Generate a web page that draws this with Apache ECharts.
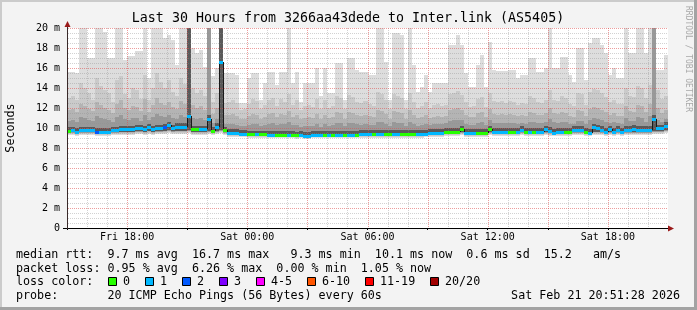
<!DOCTYPE html>
<html><head><meta charset="utf-8">
<script src="https://cdn.jsdelivr.net/npm/echarts@6/dist/echarts.min.js"></script>
<style>html,body{margin:0;padding:0;background:#f3f3f3}#c{width:697px;height:310px}</style>
</head><body><div id="c"></div>
<script>
const chartTitle = 'Last 30 Hours from 3266aa43dede to Inter.link (AS5405)';
const stepHours = 0.2; // 12-minute consolidated columns
const xTickHours = [3, 9, 15, 21, 27];
const xTickLabels = ['Fri 18:00', 'Sat 00:00', 'Sat 06:00', 'Sat 12:00', 'Sat 18:00'];
const yTickLabels = ['0', '2 m', '4 m', '6 m', '8 m', '10 m', '12 m', '14 m', '16 m', '18 m', '20 m'];

// smoke: top of each shade band (ms), lightest to darkest
const smokeMax = [
  15.6,15.6,15.5,20,20,17.0,17.0,20,20,19.6,
  17.0,17.0,20,20,16.8,17.2,17.2,17.7,17.7,20,
  15.0,20,20,20,19.0,19.3,18.8,16.3,20,20,
  20,18.0,17.5,17.8,16.1,20,15.2,16.0,20,15.5,
  15.5,15.5,15.3,12.5,12.5,15.0,15.5,15.5,12.8,14.5,
  15.6,15.6,14.3,15.6,15.6,20,14.5,15.6,12.6,14.5,
  14.5,14.5,16.0,13.2,16.0,13.5,13.5,16.5,16.5,12.8,
  17.0,17.0,15.8,15.6,15.6,15.3,15.3,20,20,16.6,
  12.8,19.5,19.5,19.3,12.8,20,16.3,13.6,14.1,15.3,
  13.6,14.5,14.5,14.5,14.5,18.3,18.3,19.3,18.3,15.5,
  14.1,14.1,16.3,17.3,14.1,18.6,15.8,15.7,15.7,15.7,
  15.8,15.8,15.0,15.3,15.3,17.0,17.0,15.6,15.6,16.0,
  20,16.0,16.0,17.1,17.1,15.3,14.6,18.0,18.0,14.8,
  18.5,19.0,19.0,18.3,17.5,15.3,16.0,15.0,15.0,20,
  17.5,17.5,20,20,17.5,20,20,15.8,15.8,17.3
];
const smokeHi = [
  13.0,13.2,12.8,14.5,14.0,13.5,12.8,15.0,14.2,13.8,
  13.5,12.6,14.8,15.2,13.4,13.0,14.0,13.8,12.9,15.3,
  12.8,14.0,15.5,14.6,14.0,14.8,13.6,13.2,15.0,14.4,
  20,14.0,13.5,13.8,13.2,20,12.6,13.5,20,12.5,
  12.6,12.8,12.5,11.8,11.9,12.4,12.9,12.7,11.9,12.3,
  12.8,13.0,12.2,12.9,12.6,13.4,12.3,12.8,11.8,12.2,
  12.3,12.1,12.9,11.9,12.8,12.0,12.2,13.2,13.0,11.9,
  13.3,13.1,12.6,12.5,12.7,12.4,12.2,13.6,13.4,12.8,
  11.9,13.4,13.2,13.0,11.9,13.5,12.6,12.0,12.2,12.6,
  12.0,12.3,12.4,12.2,12.3,13.4,13.5,13.7,13.3,12.6,
  12.1,12.2,12.9,13.1,12.1,13.5,12.7,12.6,12.7,12.5,
  12.7,12.6,12.3,12.5,12.4,13.2,13.0,12.6,12.5,12.8,
  13.8,12.8,12.7,13.2,13.0,12.4,12.2,13.5,13.4,12.3,
  13.6,13.9,13.8,13.5,13.1,12.6,12.8,12.4,12.4,14.0,
  13.2,13.1,14.2,14.0,13.0,14.3,20,13.8,12.9,13.2
];
const smokeMid = [
  11.8,11.9,11.6,12.4,12.2,11.9,11.7,12.6,12.3,12.0,
  11.8,11.5,12.4,12.8,12.0,11.8,12.2,12.1,11.7,12.9,
  11.6,12.3,13.0,12.5,12.3,12.6,12.1,11.9,12.7,12.4,
  20,12.3,12.0,12.2,11.8,20,11.4,12.0,20,11.3,
  11.3,11.4,11.2,10.9,10.9,11.2,11.4,11.3,10.9,11.1,
  11.4,11.5,11.1,11.4,11.3,11.7,11.1,11.3,10.9,11.0,
  11.1,11.0,11.4,10.9,11.3,11.0,11.1,11.6,11.5,10.9,
  11.6,11.5,11.3,11.2,11.3,11.2,11.1,11.8,11.7,11.4,
  10.9,11.7,11.6,11.5,10.9,11.8,11.3,11.0,11.1,11.3,
  11.0,11.1,11.2,11.1,11.2,11.8,11.9,12.0,11.8,11.3,
  11.1,11.1,11.5,11.6,11.1,11.9,11.4,11.3,11.4,11.3,
  11.4,11.3,11.2,11.3,11.2,11.6,11.5,11.3,11.3,11.5,
  12.0,11.5,11.4,11.6,11.5,11.2,11.1,11.8,11.7,11.2,
  11.9,12.1,12.0,11.8,11.6,11.3,11.5,11.2,11.2,12.2,
  11.7,11.6,12.3,12.2,11.6,12.4,20,12.0,11.5,11.8
];
const smokeLow = [
  10.7,10.8,10.6,11.1,11.0,10.8,10.7,11.2,11.0,10.9,
  10.8,10.6,11.1,11.3,10.9,10.8,11.0,11.0,10.7,11.3,
  10.8,11.1,11.4,11.2,11.1,11.3,11.0,10.9,11.3,11.1,
  20,11.0,10.9,11.0,10.8,20,10.5,10.9,20,10.4,
  10.4,10.4,10.3,10.2,10.2,10.3,10.4,10.4,10.2,10.3,
  10.4,10.5,10.3,10.4,10.4,10.6,10.3,10.3,10.1,10.2,
  10.2,10.2,10.4,10.1,10.4,10.2,10.3,10.5,10.5,10.2,
  10.5,10.5,10.4,10.3,10.4,10.3,10.3,10.6,10.6,10.4,
  10.2,10.6,10.5,10.5,10.2,10.6,10.4,10.2,10.3,10.4,
  10.3,10.4,10.4,10.4,10.5,10.7,10.8,10.8,10.8,10.4,
  10.3,10.3,10.5,10.6,10.3,10.8,10.5,10.5,10.5,10.5,
  10.5,10.5,10.4,10.5,10.4,10.6,10.6,10.5,10.5,10.6,
  10.9,10.6,10.5,10.6,10.6,10.4,10.4,10.7,10.7,10.4,
  10.8,11.0,10.9,10.8,10.6,10.5,10.6,10.5,10.4,11.0,
  10.7,10.7,11.1,11.0,10.6,11.2,20,10.8,10.6,10.9
];
const smokeCore = [
  10.1,10.15,10.0,10.15,10.15,10.15,10.15,10.0,10.0,10.0,
  10.0,10.15,10.15,10.25,10.25,10.25,10.25,10.35,10.35,10.25,
  10.45,10.25,10.35,10.35,10.45,10.6,10.35,10.5,10.5,10.5,
  20,10.25,10.25,10.25,10.25,11.3,10.1,10.5,20,10.15,
  9.9,9.9,9.9,9.8,9.8,9.75,9.75,9.75,9.75,9.75,
  9.7,9.7,9.7,9.7,9.7,9.75,9.7,9.65,9.7,9.65,
  9.65,9.7,9.7,9.7,9.75,9.75,9.75,9.75,9.7,9.75,
  9.75,9.75,9.75,9.8,9.8,9.8,9.8,9.8,9.8,9.8,
  9.8,9.8,9.8,9.8,9.8,9.8,9.8,9.8,9.8,9.8,
  9.9,9.9,9.9,9.9,10.0,10.0,10.0,10.0,10.25,9.9,
  9.9,9.9,9.9,9.9,9.9,10.25,10.0,10.0,10.0,10.0,
  10.0,10.0,10.0,10.2,10.0,10.0,10.0,10.0,10.0,10.25,
  10.1,9.95,10.0,10.0,10.0,10.0,10.2,10.2,10.2,10.0,
  9.95,10.45,10.35,10.2,10.0,10.25,10.0,10.2,10.0,10.2,
  10.2,10.3,10.2,10.2,10.2,10.2,11.3,10.35,10.35,10.6
];
const smokeMin = [
  9.3,9.3,9.25,9.3,9.3,9.3,9.3,9.25,9.25,9.25,
  9.25,9.3,9.3,9.35,9.35,9.35,9.35,9.4,9.4,9.35,
  9.45,9.35,9.4,9.4,9.45,9.5,9.4,9.45,9.45,9.45,
  9.5,9.35,9.35,9.35,9.35,9.4,9.3,9.4,9.5,9.3,
  9.15,9.15,9.15,9.1,9.1,9.05,9.05,9.05,9.05,9.05,
  9.0,9.0,9.0,9.0,9.0,9.0,9.0,8.95,9.0,8.95,
  8.95,9.0,9.0,9.0,9.05,9.05,9.05,9.05,9.0,9.05,
  9.05,9.05,9.05,9.05,9.05,9.05,9.05,9.05,9.05,9.05,
  9.05,9.05,9.05,9.05,9.05,9.05,9.05,9.05,9.05,9.1,
  9.15,9.15,9.15,9.15,9.2,9.25,9.25,9.25,9.3,9.15,
  9.15,9.15,9.15,9.15,9.15,9.3,9.25,9.25,9.25,9.25,
  9.25,9.25,9.25,9.3,9.25,9.25,9.25,9.25,9.25,9.3,
  9.25,9.2,9.25,9.25,9.25,9.25,9.3,9.3,9.3,9.25,
  9.2,9.35,9.35,9.3,9.25,9.3,9.25,9.3,9.25,9.3,
  9.3,9.3,9.3,9.3,9.3,9.3,9.4,9.4,9.4,9.5
];
// median rtt (ms) per column
const medianRtt = [
  9.73,9.8,9.63,9.8,9.8,9.8,9.8,9.63,9.63,9.63,
  9.63,9.8,9.8,9.87,9.87,9.87,9.87,9.97,9.97,9.87,
  10.07,9.87,9.97,9.97,10.07,10.27,9.97,10.13,10.1,10.1,
  11.23,9.87,9.87,9.87,9.87,10.9,9.73,10.13,16.6,9.8,
  9.53,9.53,9.53,9.42,9.42,9.4,9.4,9.4,9.4,9.4,
  9.35,9.35,9.35,9.35,9.35,9.35,9.3,9.27,9.3,9.25,
  9.25,9.3,9.3,9.3,9.35,9.35,9.35,9.35,9.3,9.35,
  9.35,9.35,9.35,9.4,9.4,9.4,9.4,9.4,9.4,9.4,
  9.4,9.4,9.4,9.4,9.4,9.4,9.4,9.4,9.4,9.4,
  9.53,9.53,9.53,9.53,9.63,9.63,9.63,9.63,9.87,9.53,
  9.53,9.53,9.53,9.53,9.53,9.87,9.63,9.63,9.63,9.63,
  9.63,9.63,9.63,9.8,9.63,9.63,9.63,9.63,9.63,9.87,
  9.7,9.53,9.63,9.63,9.63,9.63,9.8,9.8,9.8,9.63,
  9.53,10.07,9.97,9.8,9.63,9.87,9.63,9.8,9.6,9.8,
  9.8,9.9,9.8,9.8,9.8,9.8,10.87,9.97,9.97,10.2
];
// lost pings per column (index into loss colour legend)
const lossCount = [
  0,1,1,1,1,1,1,2,1,1,
  1,1,1,1,1,1,1,1,1,1,
  1,1,1,1,2,1,1,1,1,1,
  1,0,0,1,1,1,0,1,1,0,
  1,1,1,1,1,0,0,1,0,0,
  1,1,0,0,0,1,0,0,1,1,
  1,1,1,1,0,1,0,1,1,0,
  1,1,0,1,1,1,0,1,1,0,
  0,1,1,0,0,0,0,1,1,1,
  1,1,1,1,0,0,0,0,0,1,
  1,1,0,0,0,0,1,1,1,1,
  0,0,1,1,0,1,0,1,1,1,
  1,1,1,1,0,0,1,1,1,0,
  1,1,1,1,1,1,1,1,1,1,
  1,1,1,1,1,1,1,1,1,1
];
const lossLabels = ['0', '1', '2', '3', '4-5', '6-10', '11-19', '20/20'];
const lossColors = ['#26ff00', '#00b8ff', '#0059ff', '#7e00ff', '#ff00ff', '#ff5500', '#ff0000', '#a10000'];

const legendLine1 = 'median rtt:  9.7 ms avg  16.7 ms max   9.3 ms min  10.1 ms now  0.6 ms sd  15.2   am/s';
const legendLine2 = 'packet loss: 0.95 % avg  6.26 % max  0.00 % min  1.05 % now';
const legendLine3 = 'loss color:';
const legendLine4 = 'probe:       20 ICMP Echo Pings (56 Bytes) every 60s';
const stampText = 'Sat Feb 21 20:51:28 2026';

[smokeMax, smokeHi, smokeMid, smokeLow, smokeCore, smokeMin, medianRtt, lossCount].forEach((a, k) => {
  if (a.length !== 150) throw new Error('array ' + k + ' has length ' + a.length);
});

const FONT = 'DejaVu Sans Mono';
const shadeColors = ['#dddddd', '#cacaca', '#b4b4b4', '#999999', '#5a5a5a'];
const shadeLift = [0, 0.08, 0.16, 0.24, 0.3];
const X_MIN = 0, X_MAX = 30, Y_MIN = 0, Y_MAX = 20;

const smokeData = smokeMax.map((v, i) => [i * stepHours, (i + 1) * stepHours, smokeMin[i], v, smokeHi[i], smokeMid[i], smokeLow[i], smokeCore[i]]);
const medianData = medianRtt.map((v, i) => [i * stepHours, (i + 1) * stepHours, v, lossCount[i], i < medianRtt.length - 1 ? medianRtt[i + 1] : v]);

// grid lines: hourly (major every 3 h) and every 0.5 ms (major every 2 ms)
const gridData = [];
for (let h = 1; h < 30; h++) gridData.push([h, 0, h % 3 === 0 ? 1 : 0]);
for (let k = 1; k <= 40; k++) gridData.push([k / 2, 1, k % 4 === 0 ? 1 : 0]);
gridData.sort((a, b) => a[2] - b[2]);

// dotted patterns (1 px on, 1 px off), semi-transparent like rrdtool's grid
function dots(color, vertical) {
  const c = document.createElement('canvas');
  c.width = vertical ? 1 : 2; c.height = vertical ? 2 : 1;
  const g = c.getContext('2d');
  g.fillStyle = color; g.fillRect(0, 0, 1, 1);
  return c;
}
const MAJOR_C = 'rgba(222,80,80,0.56)', MINOR_C = 'rgba(143,143,143,0.4)';
const patMajorV = dots(MAJOR_C, true), patMajorH = dots(MAJOR_C, false);
const patMinorV = dots(MINOR_C, true), patMinorH = dots(MINOR_C, false);

function renderSmoke(params, api) {
  const t0 = api.value(0), t1 = api.value(1), lo = api.value(2);
  const xa = Math.round(api.coord([t0, 0])[0]);
  const xb = Math.round(api.coord([t1, 0])[0]);
  const children = [];
  for (let k = 0; k < 5; k++) {
    const top = api.value(3 + k);
    const ya = Math.round(api.coord([t0, top])[1]);
    const yb = Math.round(api.coord([t0, lo + shadeLift[k]])[1]);
    if (yb > ya) children.push({ type: 'rect', shape: { x: xa, y: ya, width: xb - xa, height: yb - ya }, style: { fill: shadeColors[k] } });
  }
  return { type: 'group', children };
}

function renderMedian(params, api) {
  const t0 = api.value(0), t1 = api.value(1), m = api.value(2), l = api.value(3), nx = api.value(4);
  const xa = Math.round(api.coord([t0, 0])[0]);
  const xb = Math.round(api.coord([t1, 0])[0]);
  const y = Math.round(api.coord([t0, m])[1]);
  const yn = Math.round(api.coord([t0, nx])[1]);
  const children = [];
  if (Math.abs(yn - y) > 2) {
    children.push({ type: 'rect', shape: { x: xb, y: Math.min(y, yn), width: 1, height: Math.abs(yn - y) }, style: { fill: '#1a1a1a' } });
  }
  children.push({ type: 'rect', shape: { x: xa, y: y - 1, width: xb - xa, height: 3 }, style: { fill: lossColors[l] } });
  return { type: 'group', children };
}

function renderGrid(params, api) {
  const v = api.value(0), isY = api.value(1), major = api.value(2);
  let shape, pat;
  if (isY) {
    const p0 = api.coord([X_MIN, v]), p1 = api.coord([X_MAX, v]);
    const y = Math.round(p0[1]);
    shape = { x: Math.round(p0[0]) + 1, y: y, width: Math.round(p1[0]) - Math.round(p0[0]) - 1, height: 1 };
    pat = major ? patMajorH : patMinorH;
  } else {
    const p0 = api.coord([v, Y_MIN]), p1 = api.coord([v, Y_MAX]);
    const x = Math.round(p0[0]);
    shape = { x: x, y: Math.round(p1[1]), width: 1, height: Math.round(p0[1]) - Math.round(p1[1]) };
    pat = major ? patMajorV : patMinorV;
  }
  return { type: 'rect', shape, style: { fill: { image: pat, repeat: 'repeat' } } };
}

const graphics = [
  { type: 'rect', shape: { x: 0, y: 0, width: 697, height: 2 }, style: { fill: '#cbcbcb' }, z: 100 },
  { type: 'rect', shape: { x: 0, y: 0, width: 2, height: 310 }, style: { fill: '#cbcbcb' }, z: 100 },
  { type: 'rect', shape: { x: 0, y: 307, width: 697, height: 3 }, style: { fill: '#a3a3a3' }, z: 100 },
  { type: 'rect', shape: { x: 694, y: 0, width: 3, height: 310 }, style: { fill: '#a3a3a3' }, z: 100 },
  { type: 'text', x: 348, y: 19, style: { text: chartTitle, font: '13.3px "' + FONT + '"', fill: '#000', align: 'center', verticalAlign: 'middle' }, z: 100 },
  { type: 'text', x: 11, y: 128, rotation: Math.PI / 2, style: { text: 'Seconds', font: '11.7px "' + FONT + '"', fill: '#000', align: 'center', verticalAlign: 'middle' }, z: 100 },
  { type: 'text', x: 688, y: 59, rotation: -Math.PI / 2, style: { text: 'RRDTOOL / TOBI OETIKER', font: '8px "' + FONT + '"', fill: '#a8a8a8', align: 'center', verticalAlign: 'middle' }, z: 100 },
  { type: 'rect', shape: { x: 63, y: 228, width: 606, height: 1 }, style: { fill: '#000' }, z: 60 },
  { type: 'rect', shape: { x: 67, y: 25, width: 1, height: 204 }, style: { fill: '#3a2a2a' }, z: 60 },
  { type: 'polygon', shape: { points: [[67.5, 21], [64.5, 27], [70.5, 27]] }, style: { fill: '#9a1a1a' }, z: 61 },
  { type: 'polygon', shape: { points: [[674, 228.5], [668, 225.5], [668, 231.5]] }, style: { fill: '#9a1a1a' }, z: 61 },
  { type: 'text', x: 16, y: 254.5, style: { text: legendLine1, font: '11.7px "' + FONT + '"', fill: '#000', verticalAlign: 'middle' }, z: 100 },
  { type: 'text', x: 16, y: 268.5, style: { text: legendLine2, font: '11.7px "' + FONT + '"', fill: '#000', verticalAlign: 'middle' }, z: 100 },
  { type: 'text', x: 16, y: 282, style: { text: legendLine3, font: '11.7px "' + FONT + '"', fill: '#000', verticalAlign: 'middle' }, z: 100 },
  { type: 'text', x: 16, y: 296, style: { text: legendLine4, font: '11.7px "' + FONT + '"', fill: '#000', verticalAlign: 'middle' }, z: 100 },
  { type: 'text', x: 680, y: 296, style: { text: stampText, font: '11.7px "' + FONT + '"', fill: '#000', align: 'right', verticalAlign: 'middle' }, z: 100 }
];
const boxX = [108.5, 145.5, 182.5, 219.5, 256.5, 307.5, 365.5, 430.5];
lossLabels.forEach((lab, k) => {
  graphics.push({ type: 'rect', shape: { x: boxX[k], y: 277.5, width: 8, height: 8 }, style: { fill: lossColors[k], stroke: '#000', lineWidth: 1 }, z: 100 });
  graphics.push({ type: 'text', x: boxX[k] + 14.5, y: 282, style: { text: lab, font: '11.7px "' + FONT + '"', fill: '#000', verticalAlign: 'middle' }, z: 100 });
});

const chart = echarts.init(document.getElementById('c'), null, { renderer: 'canvas', width: 697, height: 310 });
chart.setOption({
  animation: false,
  backgroundColor: '#f3f3f3',
  grid: { left: 67, right: 29, top: 28, bottom: 82, containLabel: false, show: true, backgroundColor: '#ffffff', borderWidth: 0 },
  xAxis: {
    type: 'value', min: X_MIN, max: X_MAX, interval: 3,
    axisLine: { show: false },
    axisTick: { show: true, length: 2, lineStyle: { color: '#000' } },
    axisLabel: {
      formatter: v => { const i = xTickHours.indexOf(v); return i >= 0 ? xTickLabels[i] : ''; },
      fontFamily: FONT, fontSize: 10, color: '#000', margin: 4
    },
    splitLine: { show: false }
  },
  yAxis: {
    type: 'value', min: Y_MIN, max: Y_MAX, interval: 2,
    axisLine: { show: false },
    axisTick: { show: false },
    axisLabel: {
      formatter: v => yTickLabels[Math.round(v / 2)],
      fontFamily: FONT, fontSize: 10, color: '#000', margin: 7
    },
    splitLine: { show: false }
  },
  series: [
    { type: 'custom', renderItem: renderSmoke, data: smokeData, z: 1, silent: true, clip: false, encode: { x: [0, 1], y: [2, 3] } },
    { type: 'custom', renderItem: renderGrid, data: gridData, z: 3, silent: true, clip: false },
    { type: 'custom', renderItem: renderMedian, data: medianData, z: 10, silent: true, clip: false, encode: { x: [0, 1], y: 2 } }
  ],
  graphic: graphics
});
</script>
</body></html>
